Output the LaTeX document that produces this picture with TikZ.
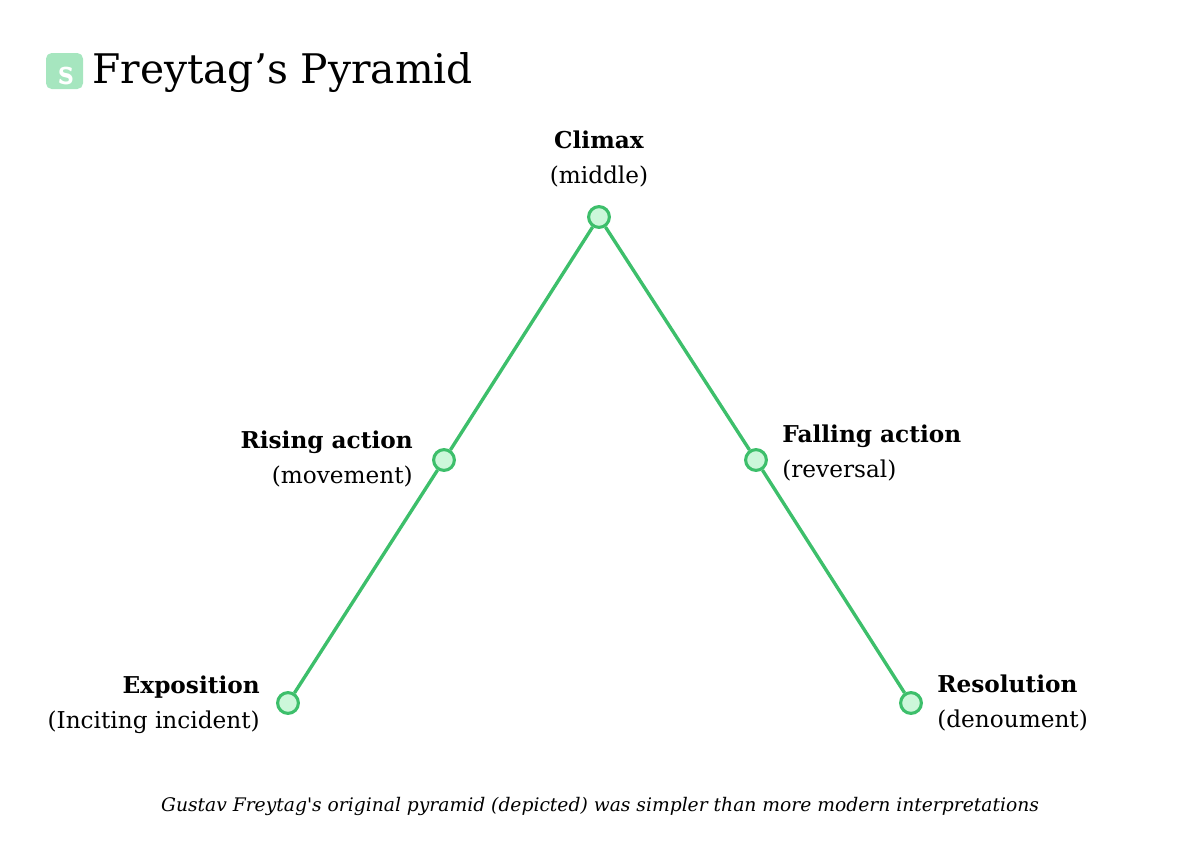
\documentclass[tikz,border=0pt]{standalone}
\usepackage{fontspec}
\setmainfont{DejaVu Serif}
\definecolor{linegreen}{HTML}{3DBF6B}
\definecolor{dotfill}{HTML}{CCF7DA}
\definecolor{logo}{HTML}{A6E6BF}
\tikzset{
  stage/.style={circle, draw=linegreen, fill=dotfill, line width=2.2pt, minimum size=0.52cm, inner sep=0pt},
  lbl/.style={font=\fontsize{16.5}{25}\selectfont, inner sep=0pt},
  plotline/.style={draw=linegreen, line width=2.4pt}
}
\begin{document}
\begin{tikzpicture}[x=0.025cm, y=-0.025cm]
  \useasboundingbox (0,0) rectangle (1200,849);
  % logo and title
  \fill[logo, rounded corners=4pt] (46,53) rectangle (83,89);
  \node[white, font=\sffamily\bfseries\fontsize{26}{26}\selectfont, inner sep=0pt] (logoS) at (66,76) {s};
  \node[anchor=west, font=\fontsize{29}{34}\selectfont, inner sep=0pt] (title) at (92,73) {Freytag’s Pyramid};
  % stages
  \node[stage] (expo) at (288,703) {};
  \node[stage] (rise) at (444,460) {};
  \node[stage] (climax) at (599,217) {};
  \node[stage] (fall) at (756,460) {};
  \node[stage] (resol) at (911,703) {};
  \draw[plotline] (expo) -- (rise) -- (climax) -- (fall) -- (resol);
  % labels
  \node[lbl, align=right, anchor=east] (expoL) at (260,705) {\textbf{Exposition}\\(Inciting incident)};
  \node[lbl, align=right, anchor=east] (riseL) at (413,459) {\textbf{Rising action}\\(movement)};
  \node[lbl, align=center] (climaxL) at (599,159) {\textbf{Climax}\\(middle)};
  \node[lbl, align=left, anchor=west] (fallL) at (782,453) {\textbf{Falling action}\\(reversal)};
  \node[lbl, align=left, anchor=west] (resolL) at (937,703) {\textbf{Resolution}\\(denoument)};
  \node[font=\itshape\fontsize{13.3}{16}\selectfont, inner sep=0pt] (caption) at (600,806)
    {Gustav Freytag\textquotesingle s original pyramid (depicted) was simpler than more modern interpretations};
\end{tikzpicture}
\end{document}
